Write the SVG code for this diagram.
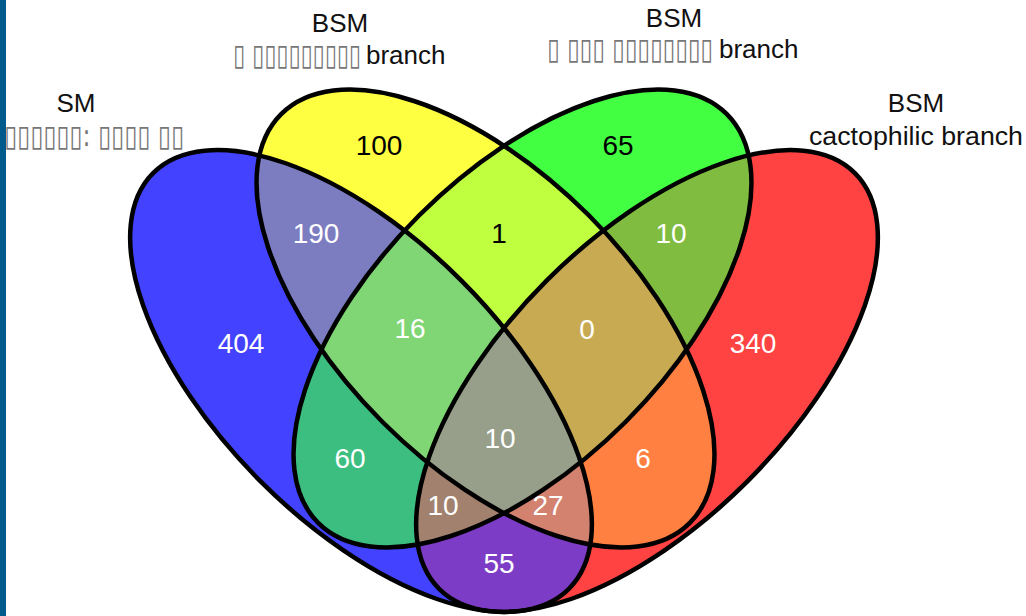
<svg xmlns="http://www.w3.org/2000/svg" width="1026" height="616" viewBox="0 0 1026 616">
<style>
.num{font-family:"Liberation Sans",Arial,sans-serif;font-size:28px;text-anchor:middle;fill:#fff}
.dark{fill:#000}
.lbl{font-family:"Liberation Sans",Arial,sans-serif;font-size:26px;fill:#111}
.tofu{font-family:"DejaVu Sans",sans-serif;font-size:15px;fill:#777}
.edge{fill:none;stroke:#000;stroke-width:4.5}
</style>
<defs>
<ellipse id="eA" cx="361" cy="381" rx="294" ry="142" transform="rotate(45 361 381)"/>
<ellipse id="eB" cx="485.5" cy="318.5" rx="289" ry="146" transform="rotate(45 485.5 318.5)"/>
<ellipse id="eC" cx="522.5" cy="318.5" rx="289" ry="146" transform="rotate(-45 522.5 318.5)"/>
<ellipse id="eD" cx="647" cy="381" rx="294" ry="142" transform="rotate(-45 647 381)"/>
<clipPath id="cA"><ellipse cx="361" cy="381" rx="294" ry="142" transform="rotate(45 361 381)"/></clipPath>
<clipPath id="cB"><ellipse cx="485.5" cy="318.5" rx="289" ry="146" transform="rotate(45 485.5 318.5)"/></clipPath>
<clipPath id="cC"><ellipse cx="522.5" cy="318.5" rx="289" ry="146" transform="rotate(-45 522.5 318.5)"/></clipPath>
</defs>
<rect width="1026" height="616" fill="#fff"/>
<rect x="0" y="0" width="6" height="616" fill="#005a8c"/>
<g id="fills">
<use href="#eA" fill="#4242ff"/>
<use href="#eB" fill="#ffff42"/>
<use href="#eC" fill="#42ff42"/>
<use href="#eD" fill="#ff4242"/>
<g clip-path="url(#cA)"><use href="#eB" fill="#7c7cc0"/><use href="#eC" fill="#3cbe80"/><use href="#eD" fill="#7d3cc6"/></g>
<g clip-path="url(#cB)"><use href="#eC" fill="#bfff40"/><use href="#eD" fill="#ff8040"/></g>
<g clip-path="url(#cC)"><use href="#eD" fill="#7fbc40"/></g>
<g clip-path="url(#cA)"><g clip-path="url(#cB)"><use href="#eC" fill="#80d674"/><use href="#eD" fill="#d2826f"/></g></g>
<g clip-path="url(#cA)"><g clip-path="url(#cC)"><use href="#eD" fill="#a2826e"/></g></g>
<g clip-path="url(#cB)"><g clip-path="url(#cC)"><use href="#eD" fill="#c8aa52"/></g></g>
<g clip-path="url(#cA)"><g clip-path="url(#cB)"><g clip-path="url(#cC)"><use href="#eD" fill="#979f8a"/></g></g></g>
</g>
<g id="connectors"></g>
<g id="set-sm">
<use href="#eA" class="edge"/>
<text class="lbl" x="76" y="112" text-anchor="middle">SM</text>
<text class="tofu" transform="scale(1,2)" x="4" y="73" textLength="180" lengthAdjust="spacingAndGlyphs">▯▯▯▯▯▯: ▯▯▯▯ ▯▯</text>
</g>
<g id="set-bsm1">
<use href="#eB" class="edge"/>
<text class="lbl" x="340" y="32" text-anchor="middle">BSM</text>
<text class="tofu" transform="scale(1,2)" x="233" y="32.5" textLength="128" lengthAdjust="spacingAndGlyphs">▯ ▯▯▯▯▯▯▯▯▯</text>
<text class="lbl" x="366" y="64">branch</text>
</g>
<g id="set-bsm2">
<use href="#eC" class="edge"/>
<text class="lbl" x="674" y="27" text-anchor="middle">BSM</text>
<text class="tofu" transform="scale(1,2)" x="547" y="29.5" textLength="166" lengthAdjust="spacingAndGlyphs">▯ ▯▯▯ ▯▯▯▯▯▯▯▯</text>
<text class="lbl" x="719" y="58">branch</text>
</g>
<g id="set-cacto">
<use href="#eD" class="edge"/>
<text class="lbl" x="916" y="112" text-anchor="middle">BSM</text>
<text class="lbl" x="916" y="145" text-anchor="middle" textLength="214" lengthAdjust="spacingAndGlyphs">cactophilic branch</text>
</g>
<g id="counts">
<text class="num dark" x="379" y="155">100</text>
<text class="num dark" x="618" y="155">65</text>
<text class="num" x="316" y="243">190</text>
<text class="num dark" x="499" y="243">1</text>
<text class="num" x="671" y="243">10</text>
<text class="num" x="410" y="338">16</text>
<text class="num" x="587" y="339">0</text>
<text class="num" x="241" y="353">404</text>
<text class="num" x="753" y="353">340</text>
<text class="num" x="500" y="448">10</text>
<text class="num" x="350" y="468">60</text>
<text class="num" x="643" y="468">6</text>
<text class="num" x="443" y="515">10</text>
<text class="num" x="548" y="515">27</text>
<text class="num" x="499" y="573">55</text>
</g>
</svg>
